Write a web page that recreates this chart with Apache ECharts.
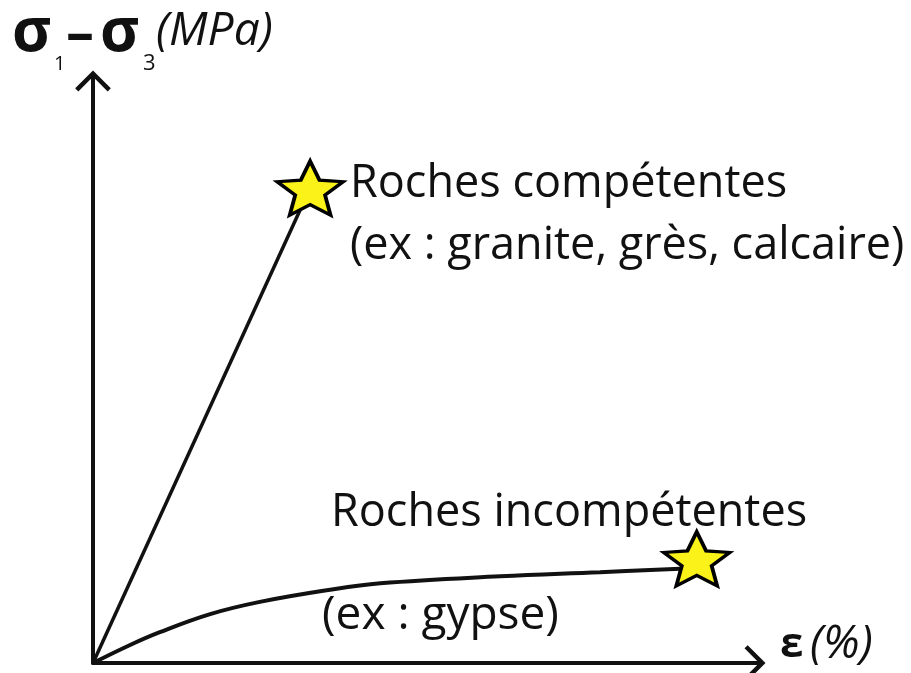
<!DOCTYPE html>
<html>
<head>
<meta charset="utf-8">
<script src="https://cdn.jsdelivr.net/npm/echarts@6/dist/echarts.min.js"></script>
<style>
  html, body { margin: 0; padding: 0; background: #fff; }
  #main { width: 911px; height: 673px; }
</style>
</head>
<body>
<div id="main"></div>
<script>
// courbes contrainte / deformation (unites arbitraires, axes 0..100)
const competentX = [0, 32.8]
const competentY = [0, 81.6]
const incompetentX = [0, 5.6, 10.1, 17.7, 25.2, 35.3, 43.4, 61.5, 76.6, 88.7]
const incompetentY = [0, 3.1, 5.3, 8.4, 10.5, 12.5, 13.7, 14.9, 15.6, 16.2]
const starX = [32.8, 91.2]
const starY = [81.6, 17.9]

const ink = '#111'
const font = '"Open Sans", "Noto Sans", sans-serif'
const starPath = 'path://M50,0 L63.5,32 L97.55,34.55 L71.5,57 L79.39,90.45 L50,73 L20.61,90.45 L28.5,57 L2.45,34.55 L36.5,32 Z'
const arrowPath = 'path://M18,0 L36,18 L32.8,21.2 L18,6.4 L3.2,21.2 L0,18 Z M16,2 L20,2 L20,21.2 L16,21.2 Z'

const zip = (xs, ys) => xs.map((x, i) => [x, ys[i]])

const axisBase = {
    type: 'value',
    min: 0,
    max: 100,
    axisLine: {
        show: true,
        symbol: ['none', arrowPath],
        symbolSize: [36, 21],
        lineStyle: { color: ink, width: 4 }
    },
    axisTick: { show: false },
    axisLabel: { show: false },
    splitLine: { show: false }
}

const txt = (text, x, y, size, extra) => ({
    type: 'text',
    x: x,
    y: y,
    z: 10,
    style: Object.assign({
        text: text,
        fill: ink,
        fontFamily: font,
        fontSize: size,
        textVerticalAlign: 'middle'
    }, extra || {})
})

const chart = echarts.init(document.getElementById('main'))
chart.setOption({
    backgroundColor: '#fff',
    animation: false,
    grid: { left: 93, right: 156, top: 81, bottom: 10 },
    xAxis: axisBase,
    yAxis: axisBase,
    series: [
        {
            name: 'competentes',
            type: 'line',
            data: zip(competentX, competentY),
            symbol: 'none',
            lineStyle: { color: ink, width: 3.5 }
        },
        {
            name: 'incompetentes',
            type: 'line',
            smooth: 0.4,
            data: zip(incompetentX, incompetentY),
            symbol: 'none',
            lineStyle: { color: ink, width: 4 }
        },
        {
            name: 'rupture',
            type: 'scatter',
            z: 5,
            data: zip(starX, starY),
            symbol: starPath,
            symbolSize: [66, 54],
            itemStyle: { color: '#fbf21a', borderColor: '#000', borderWidth: 3.5, opacity: 1 }
        }
    ],
    graphic: [
        txt('σ', 12, 34, 60, { fontWeight: 'bold' }),
        txt('1', 54, 64, 20),
        txt('–', 66, 36, 56, { fontWeight: 'bold' }),
        txt('σ', 100, 34, 60, { fontWeight: 'bold' }),
        txt('3', 143, 64, 22),
        txt('(MPa)', 156, 32, 46, { fontStyle: 'italic' }),
        txt('Roches compétentes', 350, 184, 45),
        txt('(ex : granite, grès, calcaire)', 350, 246, 45),
        txt('Roches incompétentes', 331, 513, 45),
        txt('(ex : gypse)', 322, 616, 46),
        txt('ε', 780, 645, 42, { fontWeight: 'bold' }),
        txt('(%)', 810, 645, 46, { fontStyle: 'italic' })
    ]
})
</script>
</body>
</html>
